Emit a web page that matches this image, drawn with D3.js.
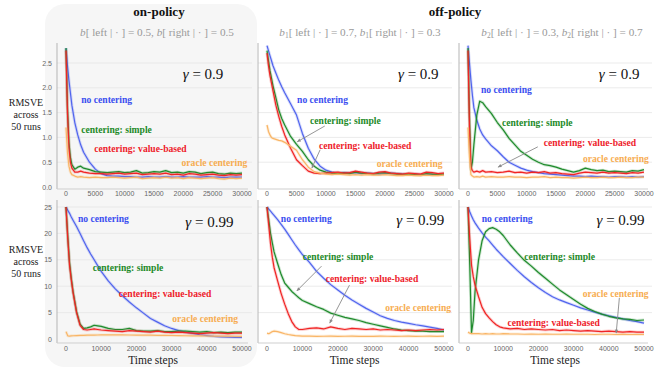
<!DOCTYPE html>
<html>
<head>
<meta charset="utf-8">
<script src="https://cdn.jsdelivr.net/npm/d3@7"></script>
<style>
  body { margin: 0; background: #fff; }
  svg { display: block; }
</style>
</head>
<body>
<script>
const topSteps = [0, 250, 500, 750, 1000, 1500, 2000, 2500, 3000, 4000, 5000, 6000, 7000, 8000, 9000, 10000,
  11000, 12000, 13000, 14000, 15000, 16000, 17000, 18000, 19000, 20000, 21000, 22000, 23000, 24000, 25000,
  26000, 27000, 28000, 29000, 30000];
const bottomSteps = [0, 500, 1000, 1500, 2000, 3000, 4000, 5000, 6000, 7000, 8000, 9000, 10000, 12000, 14000,
  16000, 18000, 20000, 22000, 24000, 26000, 28000, 30000, 32000, 34000, 36000, 38000, 40000, 42000, 44000,
  46000, 48000, 50000];

const topTicksX = [0, 5000, 10000, 15000, 20000, 25000, 30000];
const bottomTicksX = [0, 10000, 20000, 30000, 40000, 50000];
const topTicksY = [0, 0.5, 1, 1.5, 2, 2.5];
const bottomTicksY = [0, 5, 10, 15, 20, 25];

const seriesNames = ['no centering', 'centering: simple', 'centering: value-based', 'oracle centering'];
const lineColors = ['#5064ee', '#1f8b2c', '#f02424', '#f9b566'];
const labelColors = ['#3b4ff0', '#1d8a28', '#ee1c2c', '#f7ad52'];

// on-policy, gamma = 0.9
const onPolicy09None = [2.8, 2.45, 2.15, 1.9, 1.65, 1.3, 1.05, 0.85, 0.7, 0.5, 0.36, 0.27, 0.23, 0.22, 0.22, 0.21,
  0.21, 0.2, 0.2, 0.21, 0.2, 0.2, 0.21, 0.2, 0.2, 0.21, 0.2, 0.2, 0.2, 0.21, 0.2, 0.2, 0.19, 0.2, 0.2, 0.2];
const onPolicy09Simple = [2.8, 1.6, 0.9, 0.6, 0.45, 0.36, 0.4, 0.42, 0.38, 0.35, 0.31, 0.3, 0.29, 0.3, 0.31, 0.29,
  0.3, 0.33, 0.28, 0.29, 0.31, 0.3, 0.33, 0.29, 0.3, 0.28, 0.31, 0.3, 0.27, 0.29, 0.3, 0.27, 0.26, 0.28, 0.27, 0.28];
const onPolicy09Value = [2.75, 1.5, 0.8, 0.5, 0.38, 0.3, 0.3, 0.32, 0.3, 0.28, 0.27, 0.27, 0.26, 0.27, 0.28, 0.26,
  0.27, 0.28, 0.25, 0.26, 0.27, 0.26, 0.28, 0.25, 0.26, 0.24, 0.27, 0.26, 0.24, 0.25, 0.26, 0.24, 0.23, 0.25, 0.24, 0.25];
const onPolicy09Oracle = [1.2, 0.7, 0.42, 0.3, 0.25, 0.22, 0.2, 0.21, 0.2, 0.19, 0.2, 0.19, 0.19, 0.2, 0.19, 0.18,
  0.19, 0.2, 0.17, 0.18, 0.19, 0.18, 0.2, 0.18, 0.19, 0.17, 0.19, 0.18, 0.17, 0.18, 0.19, 0.17, 0.16, 0.18, 0.17, 0.18];

// off-policy b1, gamma = 0.9
const offB1g09None = [2.85, 2.75, 2.65, 2.55, 2.45, 2.3, 2.15, 2.02, 1.9, 1.68, 1.45, 1.08, 0.78, 0.56, 0.42, 0.34,
  0.3, 0.28, 0.29, 0.28, 0.29, 0.27, 0.28, 0.27, 0.26, 0.27, 0.28, 0.27, 0.26, 0.25, 0.26, 0.25, 0.26, 0.25, 0.25, 0.26];
const offB1g09Simple = [2.75, 2.55, 2.35, 2.2, 2.05, 1.8, 1.55, 1.38, 1.25, 1.02, 0.86, 0.72, 0.55, 0.42, 0.34, 0.3,
  0.28, 0.27, 0.28, 0.27, 0.3, 0.28, 0.27, 0.26, 0.28, 0.29, 0.27, 0.26, 0.25, 0.26, 0.25, 0.24, 0.27, 0.26, 0.25, 0.26];
const offB1g09Value = [2.7, 2.45, 2.25, 2.1, 1.95, 1.65, 1.42, 1.22, 1.05, 0.78, 0.55, 0.43, 0.32, 0.28, 0.27, 0.28,
  0.29, 0.3, 0.28, 0.29, 0.32, 0.3, 0.28, 0.27, 0.3, 0.31, 0.28, 0.27, 0.26, 0.28, 0.27, 0.26, 0.3, 0.29, 0.27, 0.28];
const offB1g09Oracle = [1.25, 1.12, 1.05, 1.0, 0.98, 0.96, 0.94, 0.93, 0.9, 0.82, 0.74, 0.55, 0.4, 0.31, 0.28, 0.26,
  0.25, 0.26, 0.25, 0.24, 0.25, 0.24, 0.25, 0.24, 0.24, 0.25, 0.24, 0.23, 0.23, 0.24, 0.23, 0.23, 0.24, 0.23, 0.23, 0.24];

// off-policy b2, gamma = 0.9
const offB2g09None = [2.85, 2.5, 2.15, 1.85, 1.6, 1.35, 1.17, 1.05, 0.97, 0.83, 0.73, 0.61, 0.5, 0.44, 0.38, 0.34,
  0.31, 0.29, 0.27, 0.26, 0.25, 0.24, 0.23, 0.22, 0.22, 0.21, 0.22, 0.21, 0.21, 0.2, 0.21, 0.21, 0.2, 0.21, 0.2, 0.21];
const offB2g09Simple = [2.8, 1.4, 0.35, 0.5, 0.85, 1.45, 1.73, 1.7, 1.62, 1.48, 1.3, 1.15, 0.98, 0.85, 0.72, 0.64,
  0.56, 0.5, 0.45, 0.43, 0.4, 0.36, 0.33, 0.3, 0.33, 0.38, 0.35, 0.33, 0.34, 0.31, 0.32, 0.31, 0.3, 0.33, 0.32, 0.35];
const offB2g09Value = [2.75, 1.2, 0.4, 0.33, 0.3, 0.32, 0.3, 0.33, 0.3, 0.31, 0.29, 0.3, 0.32, 0.29, 0.3, 0.28,
  0.3, 0.29, 0.31, 0.28, 0.29, 0.27, 0.26, 0.25, 0.28, 0.3, 0.29, 0.28, 0.3, 0.28, 0.29, 0.28, 0.27, 0.29, 0.28, 0.3];
const offB2g09Oracle = [1.2, 0.6, 0.25, 0.22, 0.2, 0.21, 0.2, 0.22, 0.2, 0.21, 0.2, 0.2, 0.21, 0.2, 0.2, 0.19,
  0.2, 0.2, 0.21, 0.19, 0.2, 0.19, 0.19, 0.18, 0.19, 0.2, 0.19, 0.19, 0.2, 0.19, 0.19, 0.2, 0.19, 0.19, 0.2, 0.2];

// on-policy, gamma = 0.99
const onPolicy099None = [25, 24.4, 23.8, 23.1, 22.5, 21.3, 20.0, 18.6, 17.3, 16.1, 15.0, 13.9, 12.8, 11.0, 9.5,
  8.2, 7.0, 5.9, 4.9, 3.9, 3.2, 2.5, 2.0, 1.6, 1.3, 1.05, 0.8, 0.65, 0.5, 0.42, 0.36, 0.32, 0.3];
const onPolicy099Simple = [25, 19.5, 14.5, 11.5, 9.0, 5.2, 2.8, 2.0, 2.1, 2.3, 2.6, 2.5, 2.4, 2.0, 1.8,
  1.8, 2.0, 1.6, 1.5, 1.5, 1.6, 1.4, 1.4, 1.5, 1.5, 1.4, 1.3, 1.4, 1.2, 1.3, 1.2, 1.3, 1.3];
const onPolicy099Value = [25, 19, 14.0, 11.2, 8.8, 5.0, 2.6, 1.8, 1.7, 1.8, 1.9, 1.8, 1.7, 1.6, 1.5,
  1.4, 1.6, 1.5, 1.4, 1.3, 1.5, 1.3, 1.2, 1.3, 1.2, 1.1, 1.0, 1.1, 1.2, 1.1, 1.0, 1.1, 1.1];
const onPolicy099Oracle = [1.4, 0.6, 0.55, 0.6, 0.62, 0.65, 0.68, 0.7, 0.72, 0.74, 0.75, 0.76, 0.77, 0.78, 0.78,
  0.77, 0.76, 0.75, 0.73, 0.72, 0.7, 0.68, 0.66, 0.64, 0.62, 0.6, 0.58, 0.57, 0.55, 0.54, 0.53, 0.52, 0.5];

// off-policy b1, gamma = 0.99
const offB1g099None = [25, 24.6, 24.2, 23.8, 23.4, 22.6, 21.7, 20.8, 19.8, 18.8, 17.8, 16.9, 16.0, 14.5, 12.8,
  11.5, 10.3, 9.3, 8.3, 7.4, 6.6, 5.8, 5.1, 4.4, 3.9, 3.5, 3.2, 2.95, 2.7, 2.5, 2.25, 2.0, 1.7];
const offB1g099Simple = [25, 22.5, 20, 18.2, 16.5, 14.3, 12.2, 10.6, 9.8, 9.0, 8.4, 7.8, 7.3, 6.7, 6.1,
  5.6, 4.9, 4.5, 4.1, 3.8, 3.5, 3.1, 2.8, 2.5, 2.2, 1.9, 1.7, 1.6, 1.5, 1.5, 1.4, 1.4, 1.4];
const offB1g099Value = [25, 21.5, 18, 15.5, 13.5, 11.0, 8.6, 6.6, 4.8, 3.3, 2.3, 1.8, 1.8, 2.0, 2.1,
  1.9, 2.3, 2.0, 1.8, 2.0, 1.9, 1.8, 1.9, 1.7, 1.8, 1.7, 1.6, 1.7, 1.6, 1.7, 1.8, 1.7, 1.8];
const offB1g099Oracle = [1.1, 1.0, 1.2, 1.4, 1.5, 1.4, 1.2, 1.0, 0.85, 0.75, 0.65, 0.6, 0.55, 0.55, 0.5,
  0.52, 0.55, 0.5, 0.52, 0.55, 0.5, 0.52, 0.5, 0.55, 0.52, 0.5, 0.52, 0.55, 0.5, 0.52, 0.55, 0.5, 0.55];

// off-policy b2, gamma = 0.99
const offB2g099None = [25, 24.1, 23.3, 22.6, 22.0, 21.0, 20.1, 19.3, 18.6, 17.8, 17.0, 16.3, 15.6, 14.3, 13.0,
  11.8, 10.7, 9.7, 8.8, 8.0, 7.4, 6.9, 6.4, 5.9, 5.5, 5.1, 4.7, 4.4, 4.1, 3.8, 3.5, 3.3, 3.0];
const offB2g099Simple = [25, 14, 1.2, 3.5, 9, 15, 18.6, 20.3, 20.9, 21.1, 20.8, 20.3, 19.6, 17.8, 16.3,
  14.9, 13.8, 12.6, 11.5, 10.4, 9.3, 8.4, 7.5, 6.6, 5.8, 5.2, 4.7, 4.3, 4.0, 3.8, 3.7, 3.5, 3.6];
const offB2g099Value = [25, 19, 14, 11.8, 10.2, 8.0, 6.0, 4.8, 4.0, 3.3, 2.7, 2.3, 2.1, 1.9, 2.0,
  1.8, 1.9, 1.8, 1.7, 1.8, 1.6, 1.7, 1.6, 1.5, 1.6, 1.5, 1.4, 1.5, 1.4, 1.3, 1.4, 1.3, 1.3];
const offB2g099Oracle = [1.3, 1.1, 1.0, 1.0, 1.0, 1.0, 0.95, 1.0, 0.95, 1.0, 0.95, 0.95, 1.0, 0.95, 0.95,
  0.9, 0.95, 0.9, 0.95, 0.9, 0.9, 0.95, 0.9, 0.9, 0.9, 0.85, 0.9, 0.9, 0.85, 0.9, 0.85, 0.85, 0.85];

// label anchors in data units: [step, value]
const labels = [
  [[2600, 1.75], [2600, 1.15], [4800, 0.77], [19700, 0.48]],
  [[5100, 1.75], [7300, 1.33], [8800, 0.83], [18600, 0.46]],
  [[2200, 1.96], [5800, 1.29], [12900, 0.89], [19600, 0.56]],
  [[3400, 22.7], [7600, 13.4], [15000, 8.5], [30200, 3.8]],
  [[3900, 22.7], [10100, 15.5], [16600, 11.4], [33400, 5.9]],
  [[3900, 22.7], [16000, 15.5], [11200, 3.0], [32600, 8.5]]
];
const gammaAt = [[19900, 2.28], [22200, 2.28], [22300, 2.28], [33900, 22.2], [36500, 22.5], [36500, 22.5]];
const gammaText = ['0.9', '0.9', '0.9', '0.99', '0.99', '0.99'];
// arrows: [from, to] in data units
const arrows = [
  [],
  [[[9800, 1.23], [5100, 0.91]], [[9000, 0.75], [7600, 0.38]]],
  [[[11900, 0.81], [5100, 0.40]]],
  [],
  [[[15400, 13.8], [8400, 9.1]], [[23300, 10.2], [17700, 3.0]]],
  [[[43000, 7.8], [42100, 1.1]]]
];

const panelSeries = [
  [onPolicy09None, onPolicy09Simple, onPolicy09Value, onPolicy09Oracle],
  [offB1g09None, offB1g09Simple, offB1g09Value, offB1g09Oracle],
  [offB2g09None, offB2g09Simple, offB2g09Value, offB2g09Oracle],
  [onPolicy099None, onPolicy099Simple, onPolicy099Value, onPolicy099Oracle],
  [offB1g099None, offB1g099Simple, offB1g099Value, offB1g099Oracle],
  [offB2g099None, offB2g099Simple, offB2g099Value, offB2g099Oracle]
];

const W = 670;
const H = 371;
const serif = 'Liberation Serif';
const sans = 'Liberation Sans';

const cols = [
  { spine: 57, x0: 66, x1: 242, gridEnd: 252 },
  { spine: 258, x0: 267, x1: 444, gridEnd: 452 },
  { spine: 459, x0: 468, x1: 644, gridEnd: 652 }
];
const rows = [
  { steps: topSteps, xMax: 30000, ticksX: topTicksX, ticksY: topTicksY, yMax: 2.5, y0: 187, yM: 63, top: 43, bottom: 189, tickY: 193 },
  { steps: bottomSteps, xMax: 50000, ticksX: bottomTicksX, ticksY: bottomTicksY, yMax: 25, y0: 339, yM: 207, top: 200, bottom: 343, tickY: 348 }
];

const svg = d3.select('body').append('svg')
  .attr('width', W)
  .attr('height', H);

function stext(parent, x, y, size) {
  return parent.append('text').attr('x', x).attr('y', y)
    .attr('font-family', serif).attr('font-size', size);
}

// grey rounded box behind the on-policy column
svg.append('rect')
  .attr('x', 45).attr('y', 4)
  .attr('width', 212).attr('height', 363)
  .attr('rx', 20)
  .attr('fill', '#f6f6f6');

// HEADERS
stext(svg, 159, 16, 13).attr('text-anchor', 'middle').attr('font-weight', 'bold').attr('fill', '#111')
  .text('on-policy');
stext(svg, 455, 16, 13).attr('text-anchor', 'middle').attr('font-weight', 'bold').attr('fill', '#111')
  .text('off-policy');

function subtitle(cx, sub, pl, pr) {
  const t = stext(svg, cx, 36, 11.2).attr('text-anchor', 'middle').attr('fill', '#9a9a9a');
  t.append('tspan').attr('font-style', 'italic').text('b');
  if (sub) t.append('tspan').attr('font-size', 7.5).attr('dy', 2).text(sub);
  t.append('tspan').attr('dy', sub ? -2 : 0).text(`[ left | · ] = ${pl}, `);
  t.append('tspan').attr('font-style', 'italic').text('b');
  if (sub) t.append('tspan').attr('font-size', 7.5).attr('dy', 2).text(sub);
  t.append('tspan').attr('dy', sub ? -2 : 0).text(`[ right | · ] = ${pr}`);
}
subtitle(157, '', '0.5', '0.5');
subtitle(360, '1', '0.7', '0.3');
subtitle(562, '2', '0.3', '0.7');

// Y LABELS
[[106, 'RMSVE'], [118, 'across'], [130, '50 runs'], [253, 'RMSVE'], [265, 'across'], [277, '50 runs']]
  .forEach(([y, s]) => {
    stext(svg, 26, y, 10).attr('text-anchor', 'middle').attr('fill', '#222').text(s);
  });

const line = (x, y) => d3.line().x(d => x(d[0])).y(d => y(d[1]));

rows.forEach((row, r) => {
  cols.forEach((col, c) => {
    const p = r * 3 + c;
    const x = d3.scaleLinear().domain([0, row.xMax]).range([col.x0, col.x1]);
    const y = d3.scaleLinear().domain([0, row.yMax]).range([row.y0, row.yM]);
    const g = svg.append('g');

    // grid
    g.selectAll('.grid').data(row.ticksY.slice(1)).enter().append('line')
      .attr('x1', col.spine).attr('x2', col.gridEnd)
      .attr('y1', d => y(d)).attr('y2', d => y(d))
      .attr('stroke', '#e6e6e6').attr('stroke-width', 0.8);

    // spines
    g.append('line').attr('x1', col.spine).attr('x2', col.spine)
      .attr('y1', row.top).attr('y2', row.bottom).attr('stroke', '#b5b5b5');
    g.append('line').attr('x1', col.spine).attr('x2', col.gridEnd - 4)
      .attr('y1', row.bottom).attr('y2', row.bottom).attr('stroke', '#cfcfcf');

    // x tick labels
    g.selectAll('.xt').data(row.ticksX).enter().append('text')
      .attr('x', d => x(d)).attr('y', row.tickY + 2.5)
      .attr('text-anchor', 'middle').attr('font-family', sans).attr('font-size', 7).attr('fill', '#666')
      .text(d => d);

    // y tick labels only in the first column
    if (c === 0) {
      g.selectAll('.yt').data(row.ticksY).enter().append('text')
        .attr('x', 52).attr('y', d => y(d) + 2.5)
        .attr('text-anchor', 'end').attr('font-family', sans).attr('font-size', 7).attr('fill', '#666')
        .text(d => (r === 0 ? d3.format('.1f')(d) : d));
    }

    if (r === 1) {
      stext(g, (col.x0 + col.x1) / 2 - 1, 364, 11.5).attr('text-anchor', 'middle').attr('fill', '#222')
        .text('Time steps');
    }

    // clip so the curves don't run over the top
    const clipId = `clip${p}`;
    svg.append('clipPath').attr('id', clipId).append('rect')
      .attr('x', col.spine).attr('y', row.top)
      .attr('width', col.gridEnd - col.spine).attr('height', row.bottom - row.top);

    const curves = g.append('g').attr('clip-path', `url(#${clipId})`);
    const pathGen = line(x, y);
    panelSeries[p].forEach((vals, i) => {
      const pts = row.steps.map((s, k) => [s, vals[k]]);
      curves.append('path').datum(pts)
        .attr('d', pathGen).attr('fill', 'none')
        .attr('stroke', lineColors[i]).attr('stroke-width', 3).attr('stroke-opacity', 0.22)
        .attr('stroke-linejoin', 'round');
      curves.append('path').datum(pts)
        .attr('d', pathGen).attr('fill', 'none')
        .attr('stroke', lineColors[i]).attr('stroke-width', 1.2)
        .attr('stroke-linejoin', 'round');
    });

    // arrows
    arrows[p].forEach(([a, b]) => {
      const x1 = x(a[0]), y1 = y(a[1]), x2 = x(b[0]), y2 = y(b[1]);
      const ang = Math.atan2(y2 - y1, x2 - x1);
      g.append('line').attr('x1', x1).attr('y1', y1).attr('x2', x2).attr('y2', y2)
        .attr('stroke', '#8a8a8a').attr('stroke-width', 0.9);
      const hl = 4, hw = 0.45;
      const pts = [
        [x2, y2],
        [x2 - hl * Math.cos(ang - hw), y2 - hl * Math.sin(ang - hw)],
        [x2 - hl * Math.cos(ang + hw), y2 - hl * Math.sin(ang + hw)]
      ];
      g.append('polygon').attr('points', pts.map(q => q.join(',')).join(' ')).attr('fill', '#8a8a8a');
    });

    // series labels
    labels[p].forEach((pos, i) => {
      stext(g, x(pos[0]), y(pos[1]) + 3.2, 9.6).attr('font-weight', 'bold').attr('fill', labelColors[i])
        .text(seriesNames[i]);
    });

    // gamma
    const gt = stext(g, x(gammaAt[p][0]), y(gammaAt[p][1]) + 5, 15).attr('fill', '#111');
    gt.append('tspan').attr('font-style', 'italic').text('γ');
    gt.append('tspan').text(` = ${gammaText[p]}`);
  });
});
</script>
</body>
</html>
